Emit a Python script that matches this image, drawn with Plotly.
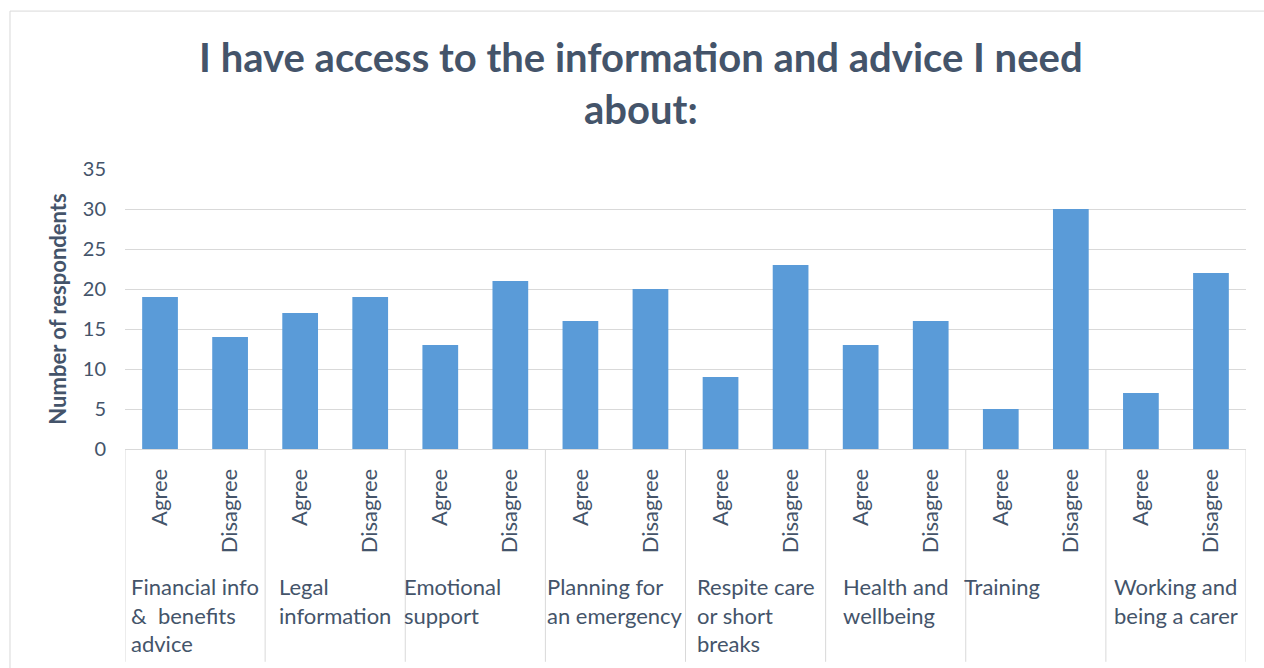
import plotly.graph_objects as go

groups = ["Financial info<br>&  benefits<br>advice", "Legal<br>information", "Emotional<br>support",
          "Planning for<br>an emergency", "Respite care<br>or short<br>breaks", "Health and<br>wellbeing",
          "Training", "Working and<br>being a carer"]
responses = ["Agree", "Disagree"]
agree = [19, 17, 13, 16, 9, 13, 5, 7]
disagree = [14, 19, 21, 20, 23, 16, 30, 22]

x_labels = []
values = []
for g in range(len(groups)):
    x_labels += responses
    values += [agree[g], disagree[g]]
x_pos = list(range(len(values)))

TXT = "#44546A"
FONT = "Lato"

fig = go.Figure(go.Bar(x=x_pos, y=values, marker=dict(color="#5A9BD8", line=dict(width=0)),
                       hoverinfo="y"))

shapes = []
# outer chart border
shapes.append(dict(type="rect", xref="paper", yref="paper", x0=-0.1026, x1=1.2, y0=-1.0, y1=1.564,
                   line=dict(color="#D9D9D9", width=1)))
# group dividers
for k in range(len(groups) + 1):
    shapes.append(dict(type="line", xref="x", yref="paper", x0=-0.5 + 2 * k, x1=-0.5 + 2 * k,
                       y0=0, y1=-0.76, line=dict(color="#D9D9D9", width=1)))

# label placement tweaks (pixels) for groups where the wrapped block sits left of centre
label_shift = {2: -23, 6: -34}
annotations = []
for g, name in enumerate(groups):
    annotations.append(dict(x=2 * g + 0.5, y=-0.435, xref="x", yref="paper", text=name,
                            xshift=label_shift.get(g, 0),
                            showarrow=False, xanchor="center", yanchor="top", align="left",
                            font=dict(size=22, color=TXT, family=FONT)))

fig.update_layout(
    width=1264, height=668,
    margin=dict(l=125, r=18, t=169, b=219),
    paper_bgcolor="white", plot_bgcolor="white",
    title=dict(text="<b>I have access to the information and advice I need<br>about:</b>",
               x=0.507, xref="container", xanchor="center", y=0.892, yanchor="top",
               font=dict(size=40, color=TXT, family=FONT)),
    bargap=0.49,
    showlegend=False,
    shapes=shapes,
    annotations=annotations,
    font=dict(family=FONT, color=TXT),
)
fig.update_xaxes(range=[-0.5, len(values) - 0.5], tickvals=x_pos, ticktext=x_labels, tickangle=-90,
                 showgrid=False, showline=True, linecolor="#D9D9D9", linewidth=1, ticks="",
                 tickfont=dict(size=22, color=TXT, family=FONT), ticklabelstandoff=10, zeroline=False)
fig.update_yaxes(range=[0, 35], dtick=5, showgrid=True, gridcolor="#D9D9D9", gridwidth=1,
                 zeroline=False, showline=False, ticks="", ticklabelstandoff=18,
                 tickfont=dict(size=20, color=TXT, family=FONT),
                 title=dict(text="<b>Number of respondents</b>", standoff=10,
                            font=dict(size=22, color=TXT, family=FONT)))

fig.write_html("out.html")
